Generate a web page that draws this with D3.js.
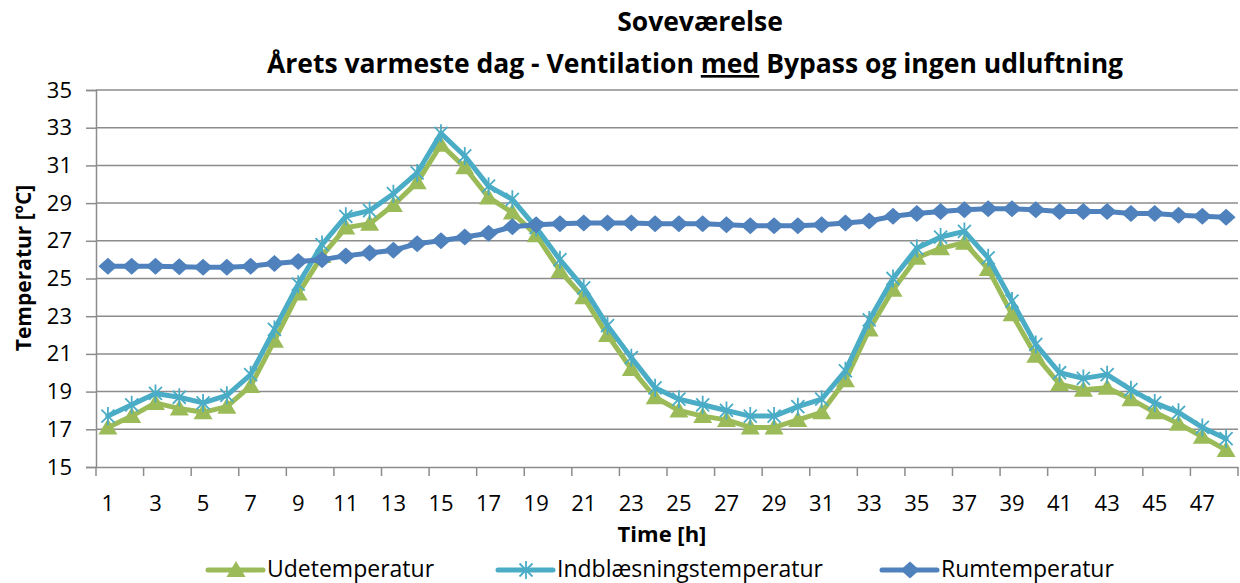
<!DOCTYPE html>
<html>
<head>
<meta charset="utf-8">
<script src="https://cdn.jsdelivr.net/npm/d3@7"></script>
<style>
  body { margin: 0; background: #fff; }
  text { font-family: "Open Sans", sans-serif; fill: #000; }
</style>
</head>
<body>
<div id="chart"></div>
<script>
const hours = d3.range(1, 49);
const udeTemp = [17.1, 17.7, 18.4, 18.1, 17.9, 18.2, 19.3, 21.7, 24.2, 26.2, 27.7, 27.9,
                 28.9, 30.1, 32.1, 30.9, 29.3, 28.5, 27.3, 25.4, 24.0, 22.0, 20.2, 18.7,
                 18.0, 17.7, 17.5, 17.1, 17.1, 17.5, 17.9, 19.6, 22.3, 24.4, 26.1, 26.6,
                 26.9, 25.5, 23.1, 20.9, 19.4, 19.1, 19.2, 18.6, 17.9, 17.3, 16.6, 15.9];
const indblTemp = [17.7, 18.3, 18.9, 18.7, 18.4, 18.8, 19.9, 22.3, 24.7, 26.8, 28.3, 28.6,
                   29.5, 30.6, 32.7, 31.5, 29.9, 29.2, 27.7, 26.0, 24.5, 22.5, 20.8, 19.2,
                   18.6, 18.3, 18.0, 17.7, 17.7, 18.2, 18.6, 20.1, 22.8, 25.0, 26.6, 27.2,
                   27.5, 26.1, 23.8, 21.5, 20.0, 19.7, 19.9, 19.1, 18.4, 17.9, 17.1, 16.5];
const rumTemp = [25.65, 25.65, 25.65, 25.62, 25.6, 25.6, 25.65, 25.8, 25.9, 26.0, 26.2, 26.35,
                 26.5, 26.85, 27.0, 27.2, 27.4, 27.75, 27.85, 27.9, 27.95, 27.95, 27.95, 27.9,
                 27.9, 27.9, 27.85, 27.8, 27.8, 27.8, 27.85, 27.95, 28.05, 28.3, 28.45, 28.55,
                 28.65, 28.7, 28.7, 28.65, 28.55, 28.55, 28.55, 28.45, 28.45, 28.35, 28.3, 28.25];
const yTicks = d3.range(15, 36, 2);
const xLabels = hours.filter(h => h % 2 === 1);
const seriesNames = ['Udetemperatur', 'Indblæsningstemperatur', 'Rumtemperatur'];

const width = 1240, height = 583;
const margin = {top: 90, right: 2, bottom: 116, left: 96};

const svg = d3.select('#chart').append('svg')
  .attr('width', width)
  .attr('height', height);

const x = d3.scaleBand().domain(hours).range([margin.left, width - margin.right]).padding(0);
const y = d3.scaleLinear().domain([15, 35]).range([height - margin.bottom, margin.top]);

const gridColor = '#8c8c8c';

// horizontal gridlines
svg.append('g')
  .selectAll('line')
  .data(yTicks.filter(t => t > 15))
  .join('line')
  .attr('x1', margin.left).attr('x2', width - margin.right)
  .attr('y1', d => y(d)).attr('y2', d => y(d))
  .attr('stroke', gridColor).attr('stroke-width', 1.5);

// y axis
const yAxis = d3.axisLeft(y).tickValues(yTicks).tickSize(10).tickPadding(14);
svg.append('g')
  .attr('transform', `translate(${margin.left},0)`)
  .call(yAxis)
  .call(g => g.select('.domain').attr('stroke', gridColor).attr('stroke-width', 1.5))
  .call(g => g.selectAll('.tick line').attr('stroke', gridColor).attr('stroke-width', 1.5))
  .call(g => g.selectAll('.tick text').attr('font-size', 22).attr('font-family', '"Open Sans", sans-serif').attr('fill', '#000'));

// x axis (labels on odd hours, tick marks every 2 hours)
const xAxis = d3.axisBottom(x).tickValues(xLabels).tickSize(0).tickPadding(28);
svg.append('g')
  .attr('transform', `translate(0,${y(15)})`)
  .call(xAxis)
  .call(g => g.select('.domain').attr('stroke', gridColor).attr('stroke-width', 1.5))
  .call(g => g.selectAll('.tick text').attr('font-size', 22).attr('font-family', '"Open Sans", sans-serif').attr('fill', '#000'));

const tickPos = xLabels.map(h => x(h)).concat([x(48) + x.bandwidth()]);
svg.append('g')
  .selectAll('line')
  .data(tickPos)
  .join('line')
  .attr('x1', d => d).attr('x2', d => d)
  .attr('y1', y(15)).attr('y2', y(15) + 9)
  .attr('stroke', gridColor).attr('stroke-width', 1.5);

// series
const cx = i => x(hours[i]) + x.bandwidth() / 2;
const triangle = 'M0,-9L9.5,7L-9.5,7Z';
const star = 'M0,-9V9M-6.5,-6.5L6.5,6.5M-6.5,6.5L6.5,-6.5';
const diamond = 'M0,-8.5L9.5,0L0,8.5L-9.5,0Z';

const series = [
  {name: seriesNames[0], values: udeTemp, color: '#9bbb59', marker: triangle, filled: true},
  {name: seriesNames[1], values: indblTemp, color: '#4bacc6', marker: star, filled: false},
  {name: seriesNames[2], values: rumTemp, color: '#4f81bd', marker: diamond, filled: true}
];

const line = d3.line()
  .x((d, i) => cx(i))
  .y(d => y(d));

series.forEach(s => {
  const g = svg.append('g');
  g.append('path')
    .datum(s.values)
    .attr('fill', 'none')
    .attr('stroke', s.color)
    .attr('stroke-width', 5)
    .attr('stroke-linejoin', 'round')
    .attr('stroke-linecap', 'round')
    .attr('d', line);
  g.selectAll('path.marker')
    .data(s.values)
    .join('path')
    .attr('class', 'marker')
    .attr('transform', (d, i) => `translate(${cx(i)},${y(d)})`)
    .attr('d', s.marker)
    .attr('fill', s.filled ? s.color : 'none')
    .attr('stroke', s.color)
    .attr('stroke-width', s.filled ? 0 : 1.8);
});

// titles
const title = svg.append('text')
  .attr('x', 695).attr('text-anchor', 'middle')
  .attr('font-weight', 'bold').attr('font-size', 26.5);
title.append('tspan').attr('x', 700).attr('y', 31).text('Soveværelse');
const line2 = title.append('tspan').attr('x', 695).attr('y', 73);
line2.append('tspan').text('Årets varmeste dag - Ventilation ');
line2.append('tspan').attr('text-decoration', 'underline').text('med');
line2.append('tspan').text(' Bypass og ingen udluftning');

svg.append('text')
  .attr('x', 662).attr('y', 542)
  .attr('text-anchor', 'middle')
  .attr('font-weight', 'bold').attr('font-size', 22)
  .text('Time [h]');

svg.append('text')
  .attr('transform', 'translate(31,268) rotate(-90)')
  .attr('text-anchor', 'middle')
  .attr('font-weight', 'bold').attr('font-size', 21)
  .text('Temperatur [ºC]');

// legend
const legendX = [208, 498, 882];
const legend = svg.append('g')
  .selectAll('g')
  .data(series)
  .join('g')
  .attr('transform', (d, i) => `translate(${legendX[i]},570)`);
legend.append('line')
  .attr('x1', 0).attr('x2', 55)
  .attr('stroke', d => d.color).attr('stroke-width', 5)
  .attr('stroke-linecap', 'round');
legend.append('path')
  .attr('transform', 'translate(28,0)')
  .attr('d', d => d.marker)
  .attr('fill', d => d.filled ? d.color : 'none')
  .attr('stroke', d => d.color)
  .attr('stroke-width', d => d.filled ? 0 : 1.8);
legend.append('text')
  .attr('x', 59).attr('y', 7)
  .attr('font-size', 23)
  .text(d => d.name);
</script>
</body>
</html>
